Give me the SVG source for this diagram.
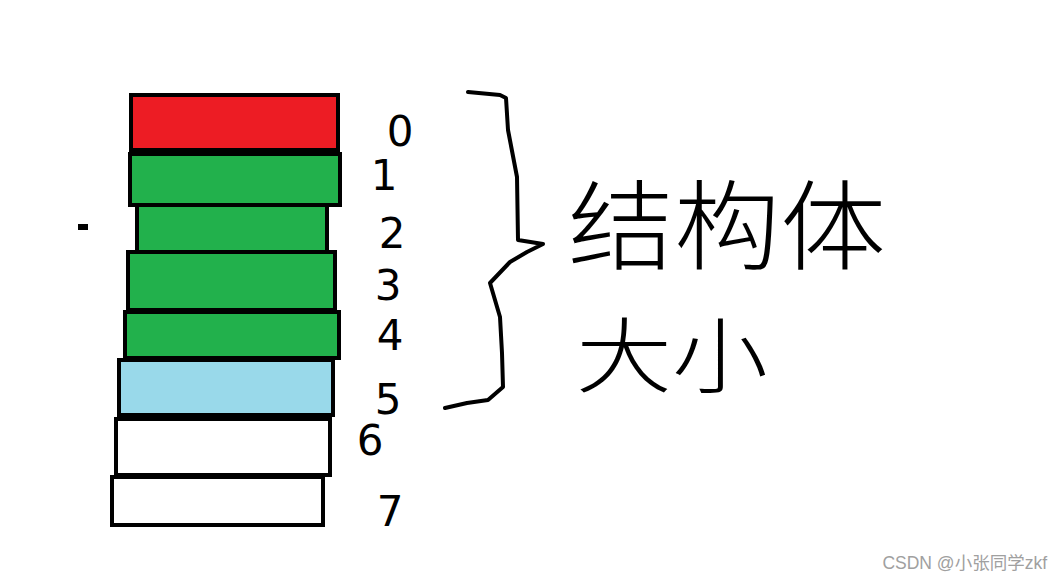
<svg xmlns="http://www.w3.org/2000/svg" width="1062" height="581" viewBox="0 0 1062 581">
<style>
.blk{stroke:#000;stroke-width:4}
.red{fill:#ed1c24}
.grn{fill:#22b14c}
.blu{fill:#99d9ea}
.wht{fill:#fff}
.dig{font-family:"DejaVu Sans","Noto Sans",sans-serif;font-size:42px;fill:#000;text-anchor:middle}
.hand{font-family:"Noto Sans CJK SC",sans-serif;font-weight:300;fill:#000}
.wm{font-family:"Liberation Sans","Noto Sans CJK SC",sans-serif;font-size:17.5px;fill:#a0a0a0;text-anchor:end}
.ln{fill:none;stroke:#000;stroke-width:4;stroke-linecap:round;stroke-linejoin:round}
</style>
<rect width="1062" height="581" fill="#fff"/>
<g id="byte0"><rect class="blk red" x="131" y="95" width="207" height="55"/></g>
<g id="byte1"><rect class="blk grn" x="130" y="154" width="210" height="51"/></g>
<g id="byte2"><rect class="blk grn" x="137" y="205" width="190" height="48"/></g>
<g id="byte3"><rect class="blk grn" x="128" y="252" width="207" height="58"/></g>
<g id="byte4"><rect class="blk grn" x="125" y="312" width="214" height="46"/></g>
<g id="byte5"><rect class="blk blu" x="119" y="360" width="214" height="55"/></g>
<g id="byte6"><rect class="blk wht" x="116" y="419" width="214" height="56"/></g>
<g id="byte7"><rect class="blk wht" x="112" y="477" width="211" height="48"/></g>
<g id="dot"><rect x="78" y="224" width="10" height="6" fill="#000"/></g>
<g id="labels">
<text class="dig" x="400" y="146">0</text>
<text class="dig" x="384" y="190">1</text>
<text class="dig" x="392" y="248">2</text>
<text class="dig" x="388" y="300">3</text>
<text class="dig" x="390" y="350">4</text>
<text class="dig" x="388" y="414">5</text>
<text class="dig" x="370" y="455">6</text>
<text class="dig" x="390" y="526">7</text>
</g>
<g id="connectors">
<path class="ln" d="M468,92 L500,95 L506,98 L508,130 L517,177 L518,240 L543,244 L527,252 L510,262 L490,283 L500,317 L502,353 L503,387 L488,400 L467,403 L445,408"/>
</g>
<g id="title">
<text class="hand" x="568" y="262" font-size="98" textLength="318" lengthAdjust="spacingAndGlyphs">结构体</text>
<text class="hand" x="576" y="386" font-size="82" textLength="192" lengthAdjust="spacingAndGlyphs">大小</text>
</g>
<g id="watermark"><text class="wm" x="1047" y="569">CSDN @小张同学zkf</text></g>
</svg>
